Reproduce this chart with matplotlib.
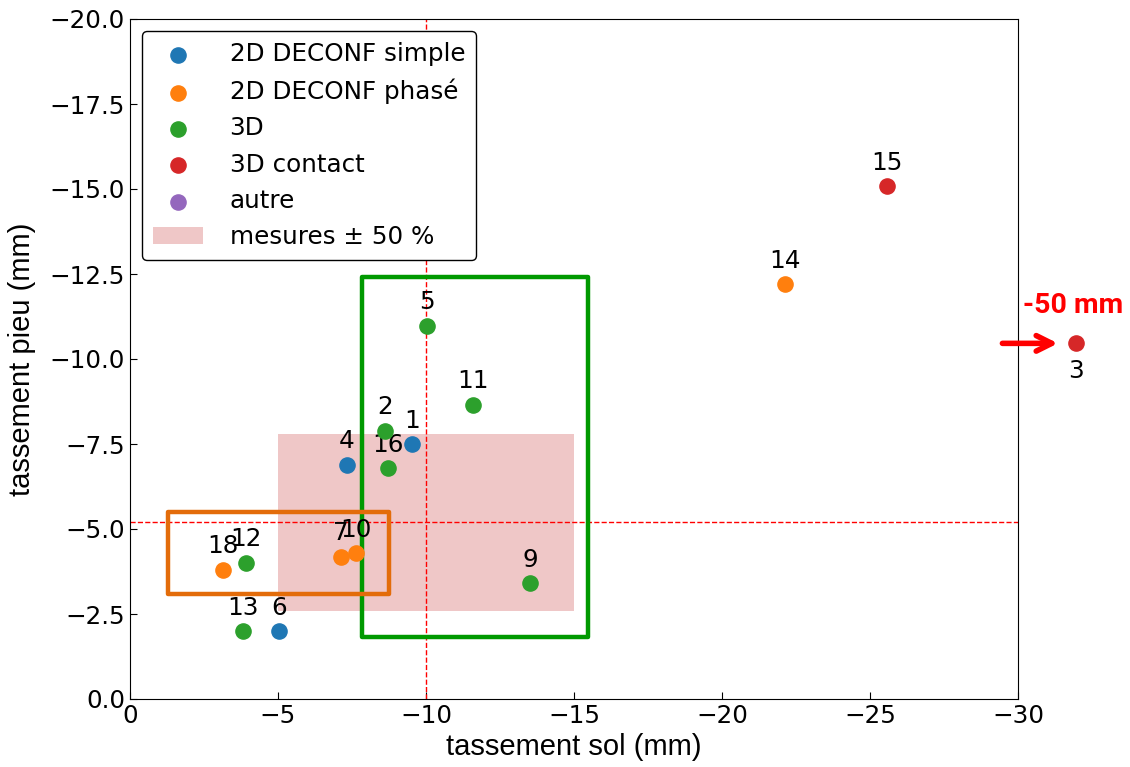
import matplotlib.pyplot as plt
import matplotlib.patches as mpatches
import numpy as np

plt.rcParams['font.size'] = 17.7

# tassements (mm) par famille de modele : (sol, pieu, numero)
simple_x = [-9.53, -7.33, -5.03]
simple_y = [-7.49, -6.89, -1.99]
simple_id = ['1', '4', '6']

phase_x = [-7.13, -7.62, -3.13, -22.14]
phase_y = [-4.19, -4.28, -3.79, -12.20]
phase_id = ['7', '10', '18', '14']

d3_x = [-10.02, -11.60, -8.63, -8.73, -13.52, -3.92, -3.83]
d3_y = [-10.98, -8.66, -7.89, -6.78, -3.40, -4.01, -1.99]
d3_id = ['5', '11', '2', '16', '9', '12', '13']

contact_x = [-25.56, -31.96]
contact_y = [-15.08, -10.46]
contact_id = ['15', '3']

# mesures
mes_sol = -10.0
mes_pieu = -5.2
tol = 0.5

# zones encadrees (sol min, sol max, pieu min, pieu max)
green_box = [-7.85, -15.46, -1.83, -12.40]
orange_box = [-1.28, -8.75, -3.09, -5.50]

fig, ax = plt.subplots(figsize=(11.3, 7.67), dpi=100)
fig.subplots_adjust(left=130/1130, right=1018/1130, top=1-19/767, bottom=1-699/767)

band = mpatches.Rectangle((mes_sol*(1-tol), mes_pieu*(1-tol)),
                          mes_sol*(1+tol) - mes_sol*(1-tol),
                          mes_pieu*(1+tol) - mes_pieu*(1-tol),
                          facecolor='#efc7c7', edgecolor='none', zorder=1)
ax.add_patch(band)

ax.axvline(mes_sol, color='red', ls='--', lw=1, zorder=2)
ax.axhline(mes_pieu, color='red', ls='--', lw=1, zorder=2)

for box, col in [(green_box, '#009900'), (orange_box, '#e36c0a')]:
    r = mpatches.Rectangle((box[0], box[2]), box[1]-box[0], box[3]-box[2],
                           fill=False, edgecolor=col, lw=3.2, zorder=3,
                           joinstyle='round')
    ax.add_patch(r)

series = [
    (simple_x, simple_y, simple_id, 'tab:blue', '2D DECONF simple'),
    (phase_x, phase_y, phase_id, 'tab:orange', '2D DECONF phasé'),
    (d3_x, d3_y, d3_id, 'tab:green', '3D'),
    (contact_x, contact_y, contact_id, 'tab:red', '3D contact'),
    ([], [], [], 'tab:purple', 'autre'),
]

handles = []
for xs, ys, ids, col, lab in series:
    h = ax.scatter(xs, ys, s=120, color=col, label=lab, zorder=4, clip_on=False)
    handles.append(h)
    for x, y, t in zip(xs, ys, ids):
        if t == '3':
            ax.annotate(t, (x, y), xytext=(0, -11), textcoords='offset points',
                        ha='center', va='top', annotation_clip=False)
        else:
            ax.annotate(t, (x, y), xytext=(0, 12), textcoords='offset points',
                        ha='center', va='baseline', annotation_clip=False)

# point 3 hors echelle
x3, y3 = contact_x[1], contact_y[1]
ax.annotate('', xy=(x3, y3), xytext=(-53, 0), textcoords='offset points',
            arrowprops=dict(arrowstyle='->', color='red', lw=4,
                            mutation_scale=28, shrinkA=0, shrinkB=13),
            annotation_clip=False)
ax.annotate('-50 mm', (x3, y3), xytext=(-2, 27), textcoords='offset points',
            ha='center', va='center', color='red', fontweight='bold',
            family='Roboto', fontsize=20.5, annotation_clip=False)

handles.append(band)
ax.legend(handles=handles,
          labels=[s[4] for s in series] + ['mesures ± 50 %'],
          loc='upper left', edgecolor='black', fancybox=True, framealpha=1,
          borderpad=0.45, labelspacing=0.5, handletextpad=1.1)

ax.set_xlim(0, -30)
ax.set_ylim(0, -20)
ax.set_xlabel('tassement sol (mm)', family='Liberation Sans', fontsize=21)
ax.set_ylabel('tassement pieu (mm)', family='Liberation Sans', fontsize=21)
ax.yaxis.set_label_coords(-0.106, 0.5)
ax.tick_params(direction='in', length=5)

fig.savefig('out.png', dpi=100)
